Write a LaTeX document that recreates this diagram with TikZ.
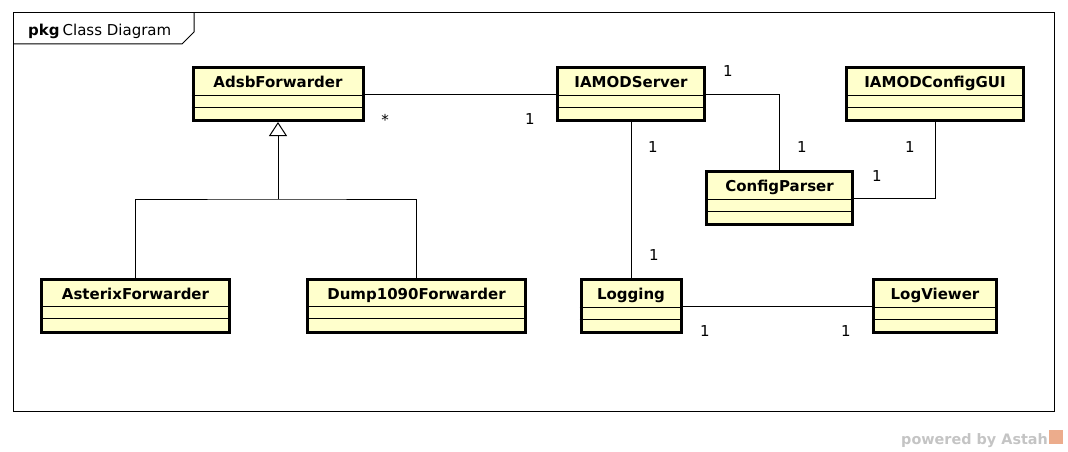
\documentclass[tikz,border=0pt]{standalone}
\usepackage{fontspec}
\setmainfont{DejaVu Sans}
\usetikzlibrary{arrows.meta}
\definecolor{classfill}{RGB}{255,255,204}
\definecolor{astahgray}{RGB}{196,196,196}
\definecolor{astahlogo}{RGB}{236,172,140}

\begin{document}
\begin{tikzpicture}[x=1pt,y=-1pt,
  umlclass/.style={draw,line width=3pt,fill=classfill,minimum height=53pt,inner sep=0pt},
  classname/.style={font=\fontsize{15}{18}\selectfont\bfseries,inner sep=0pt},
  mult/.style={font=\fontsize{15}{18}\selectfont,inner sep=0pt},
  conn/.style={line width=1pt}]
\useasboundingbox (0,0) rectangle (1068,452);

%frame%%%%%%%%%%%%%%%%%%%%%%%%%%%%%%%%%%%%%%%%%%%%%%%%%%%%%%%%%%%%%%%%%%%

\draw[line width=1pt] (13,13) rectangle (1054,411);
\draw[line width=1pt] (13,44) -- (182,44) -- (194,32) -- (194,13);
\node[anchor=base west,inner sep=0pt,font=\fontsize{15}{18}\selectfont] (title) at (28,36) {\textbf{pkg}\hspace{3pt}Class Diagram};

%classes%%%%%%%%%%%%%%%%%%%%%%%%%%%%%%%%%%%%%%%%%%%%%%%%%%%%%%%%%%%%%%%%%

\foreach \n/\x/\y/\w/\t in {adsb/278/94/170/AdsbForwarder,
    server/631/94/147/IAMODServer,
    gui/935/94/177/IAMODConfigGUI,
    parser/779.5/198/146/ConfigParser,
    asterix/135.5/305.5/188/AsterixForwarder,
    dump/416.5/305.5/218/Dump1090Forwarder,
    logging/631/306/100/Logging,
    viewer/935/306/123/LogViewer} {
  \node[umlclass,minimum width=\w pt] (\n) at (\x,\y) {};
  \node[classname,anchor=base] (\n-name) at ([yshift=-21.5pt]\n.north) {\t};
  \draw[line width=1pt] ([yshift=-29pt]\n.north west) -- ([yshift=-29pt]\n.north east);
  \draw[line width=1pt] ([yshift=-41pt]\n.north west) -- ([yshift=-41pt]\n.north east);
}

%connectors%%%%%%%%%%%%%%%%%%%%%%%%%%%%%%%%%%%%%%%%%%%%%%%%%%%%%%%%%%%%%%

\coordinate (join) at (278,199);
\draw[conn] (asterix.north) |- (join) -| (dump.north);
\draw[conn,-{Triangle[open,length=14pt,width=18pt]}] (join) -- (adsb.south);

\draw[conn] (adsb.east) -- (server.west);
\draw[conn] (server.east) -| (parser.north);
\draw[conn] (server.south) -- (logging.north);
\draw[conn] (gui.south) |- (parser.east);
\draw[conn] (logging.east) -- (viewer.west);

%multiplicities%%%%%%%%%%%%%%%%%%%%%%%%%%%%%%%%%%%%%%%%%%%%%%%%%%%%%%%%%%

\node[mult] (m-adsb) at (385,120) {*};
\node[mult] (m-server-adsb) at (530,119) {1};
\node[mult] (m-server-parser) at (728,71) {1};
\node[mult] (m-parser-server) at (802,147) {1};
\node[mult] (m-server-log) at (653,147) {1};
\node[mult] (m-log-server) at (654,255) {1};
\node[mult] (m-gui) at (910,147) {1};
\node[mult] (m-parser-gui) at (877,176) {1};
\node[mult] (m-log-viewer) at (705,331) {1};
\node[mult] (m-viewer) at (846,331) {1};

%watermark%%%%%%%%%%%%%%%%%%%%%%%%%%%%%%%%%%%%%%%%%%%%%%%%%%%%%%%%%%%%%%

\node[anchor=base west,inner sep=0pt,text=astahgray,font=\fontsize{14.4}{17}\selectfont\bfseries] (powered) at (901,444) {powered by Astah};
\node[fill=astahlogo,minimum size=14pt,inner sep=0pt,anchor=south west] (logo) at ([xshift=1pt]powered.base east) {};

\end{tikzpicture}
\end{document}
